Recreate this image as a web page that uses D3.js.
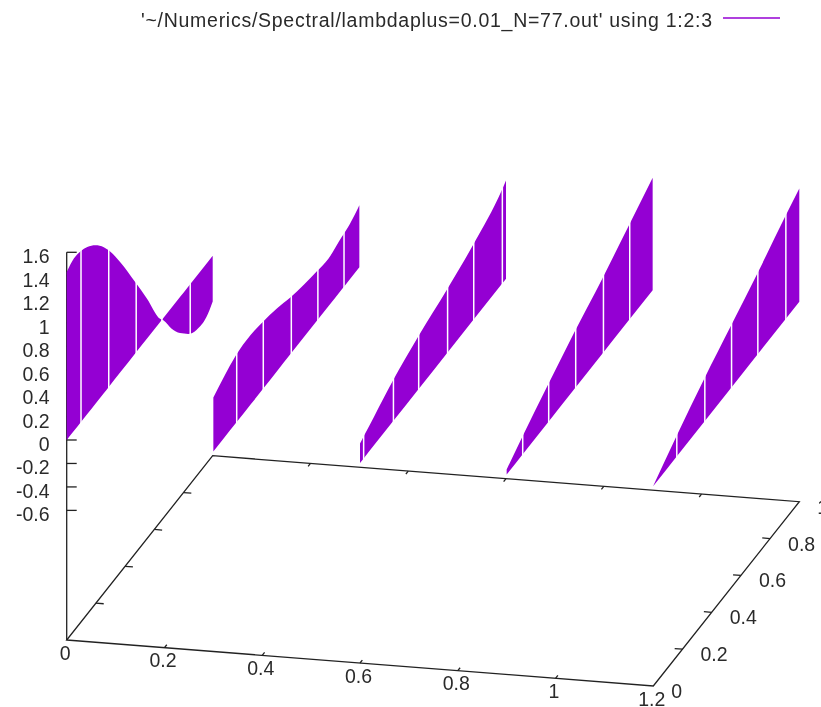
<!DOCTYPE html>
<html>
<head>
<meta charset="utf-8">
<script src="https://cdn.jsdelivr.net/npm/d3@7"></script>
<style>
  html, body { margin: 0; padding: 0; background: #fff; }
  svg { display: block; filter: blur(0.45px); }
  svg text { font-family: "Liberation Sans", Arial, sans-serif; fill: #2a2a2a; }
</style>
</head>
<body>
<svg id="chart" width="821" height="707"></svg>
<script>
const legendLabel = "'~/Numerics/Spectral/lambdaplus=0.01_N=77.out' using 1:2:3";

const xTicks = [0, 0.2, 0.4, 0.6, 0.8, 1, 1.2];
const yTicks = [0, 0.2, 0.4, 0.6, 0.8, 1];
const zTicks = [-0.6, -0.4, -0.2, 0, 0.2, 0.4, 0.6, 0.8, 1, 1.2, 1.4, 1.6];
const zFloor = -1.705;

// one ribbon per x value, from z = 0 up (or down) to the curve
const sliceX = [0, 0.3, 0.6, 0.9, 1.2];

const y0 = [0, 0.05, 0.095, 0.141, 0.197, 0.254, 0.288, 0.367, 0.469, 0.549, 0.639, 0.662, 0.719, 0.776, 0.832, 0.889, 0.957, 1];
const z0 = [1.432, 1.47, 1.459, 1.424, 1.351, 1.245, 1.164, 0.939, 0.609, 0.344, 0.029, -0.02, -0.181, -0.308, -0.403, -0.458, -0.456, -0.39];
const gaps0 = [0.098, 0.288, 0.476, 0.652, 0.846];

const y1 = [0, 0.073, 0.153, 0.255, 0.335, 0.437, 0.527, 0.709, 0.788, 0.879, 0.935, 1];
const z1 = [0.46, 0.523, 0.576, 0.592, 0.574, 0.534, 0.484, 0.422, 0.406, 0.447, 0.471, 0.528];
const gaps1 = [0.16, 0.342, 0.534, 0.716, 0.895];

const y2 = [0, 0.029, 0.097, 0.222, 0.403, 0.597, 0.778, 0.971, 1];
const z2 = [0.166, 0.191, 0.245, 0.346, 0.453, 0.543, 0.644, 0.799, 0.838];
const gaps2 = [0.025, 0.229, 0.402, 0.6, 0.779, 0.975];

const y3 = [0, 0.11, 0.284, 0.461, 0.654, 0.831, 1];
const z3 = [0.043, 0.155, 0.32, 0.482, 0.64, 0.802, 0.958];
const gaps3 = [0.11, 0.288, 0.473, 0.663, 0.843];

const y4 = [0, 0.156, 0.349, 0.531, 0.712, 0.905, 1];
const z4 = [0.003, 0.173, 0.367, 0.529, 0.691, 0.879, 0.965];
const gaps4 = [0.161, 0.353, 0.536, 0.716, 0.908];

const sliceY = [y0, y1, y2, y3, y4];
const sliceZ = [z0, z1, z2, z3, z4];
const sliceGaps = [gaps0, gaps1, gaps2, gaps3, gaps4];

const purple = "#9400d3";
const axisColor = "#222";

// oblique projection of the gnuplot view
const xToPx = d3.scaleLinear().domain([0, 1.2]).range([0, 586.6]);
const xToPy = d3.scaleLinear().domain([0, 1.2]).range([0, 46]);
const yToPx = d3.scaleLinear().domain([0, 1]).range([0, 146]);
const yToPy = d3.scaleLinear().domain([0, 1]).range([0, -184.3]);
const zToPy = d3.scaleLinear().domain([0, 1.6]).range([440, 252.3]);

const projX = (x, y) => 66.7 + xToPx(x) + yToPx(y);
const projY = (x, y, z) => zToPy(z) + xToPy(x) + yToPy(y);
const floorY = (x, y) => projY(x, y, zFloor);

const svg = d3.select("#chart");
const axes = svg.append("g").attr("stroke", axisColor).attr("stroke-width", 1.3).attr("fill", "none");
const seg = (x1, y1, x2, y2) => axes.append("line").attr("x1", x1).attr("y1", y1).attr("x2", x2).attr("y2", y2);

// floor frame
const corners = [[0, 0], [1.2, 0], [1.2, 1], [0, 1]];
axes.append("path")
    .attr("d", d3.line().x(d => projX(d[0], d[1])).y(d => floorY(d[0], d[1])).curve(d3.curveLinearClosed)(corners));

// vertical z axis and its ticks
seg(projX(0, 0), floorY(0, 0), projX(0, 0), zToPy(1.6));
zTicks.forEach(z => seg(projX(0, 0), zToPy(z), projX(0, 0) + 10, zToPy(z)));

xTicks.slice(1, -1).forEach(x => {
    seg(projX(x, 0), floorY(x, 0), projX(x, 0.016), floorY(x, 0.016));
    seg(projX(x, 1), floorY(x, 1), projX(x, 0.984), floorY(x, 0.984));
});
yTicks.slice(1, -1).forEach(y => {
    seg(projX(0, y), floorY(0, y), projX(0.016, y), floorY(0.016, y));
    seg(projX(1.2, y), floorY(1.2, y), projX(1.184, y), floorY(1.184, y));
});

// tick labels
const labels = svg.append("g").attr("font-size", 19.5);
zTicks.forEach(z => labels.append("text")
    .attr("x", 49.5).attr("y", zToPy(z) + 11)
    .attr("text-anchor", "end").text(z));
xTicks.forEach(x => labels.append("text")
    .attr("x", projX(x, 0) - 1.5).attr("y", floorY(x, 0) + 19.5)
    .attr("text-anchor", "middle").text(x));
yTicks.forEach(y => labels.append("text")
    .attr("x", projX(1.2, y) + 18).attr("y", floorY(1.2, y) + 12)
    .text(y));

// ribbons
sliceX.forEach((x, i) => {
    const ys = sliceY[i], zs = sliceZ[i];
    const curve = ys.map((y, k) => [y, zs[k]]);
    const ribbon = d3.area()
        .x(d => projX(x, d[0]))
        .y0(d => projY(x, d[0], 0))
        .y1(d => projY(x, d[0], d[1]))
        .curve(d3.curveMonotoneX);
    svg.append("path")
        .attr("fill", purple)
        .attr("d", ribbon(curve));

    const zAt = d3.scaleLinear().domain(ys).range(zs);
    svg.append("g").selectAll("line")
        .data(sliceGaps[i])
        .enter()
        .append("line")
        .attr("x1", d => projX(x, d))
        .attr("x2", d => projX(x, d))
        .attr("y1", d => projY(x, d, Math.max(0, zAt(d)) + 0.04))
        .attr("y2", d => projY(x, d, Math.min(0, zAt(d)) - 0.04))
        .attr("stroke", "#fff")
        .attr("stroke-width", 1.5);
});

// legend
svg.append("text")
    .attr("x", 712).attr("y", 27)
    .attr("text-anchor", "end")
    .attr("font-size", 19.5)
    .attr("textLength", 571)
    .text(legendLabel);
svg.append("line")
    .attr("x1", 723).attr("x2", 780).attr("y1", 18).attr("y2", 18)
    .attr("stroke", purple).attr("stroke-width", 1.3);
</script>
</body>
</html>
